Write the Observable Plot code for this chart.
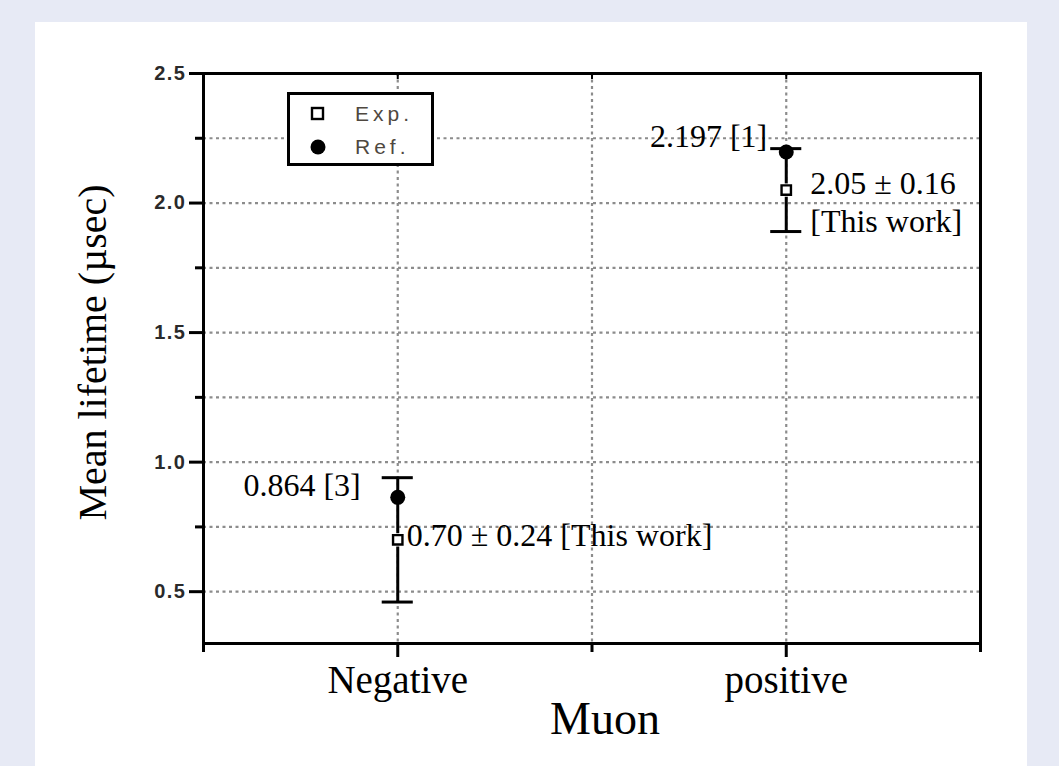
<!DOCTYPE html>
<html>
<head>
<meta charset="utf-8">
<script src="https://cdn.jsdelivr.net/npm/d3@7"></script>
<script src="https://cdn.jsdelivr.net/npm/@observablehq/plot@0.6"></script>
<style>
  html, body { margin: 0; padding: 0; }
  body { width: 1059px; height: 766px; overflow: hidden; background: #e7eaf5; position: relative; }
  #panel { position: absolute; left: 35px; top: 22px; width: 992px; height: 744px; background: #ffffff; }
  #chart { position: absolute; left: 0; top: 0; }
  #legend { position: absolute; left: 252px; top: 70px; width: 141px; height: 68px;
            border: 3px solid #000; background: #fff; font-family: "Liberation Sans", Arial, sans-serif; }
  .li { position: absolute; left: 0; height: 30px; display: flex; align-items: center; }
  .li svg { margin-left: 20px; }
  .li span { margin-left: 29px; font-size: 21px; letter-spacing: 4px; color: #4f4840; }
  .ytl text { letter-spacing: 1.5px; }
</style>
</head>
<body>
<div id="panel">
  <div id="chart"></div>
  <div id="legend"></div>
</div>
<script>
// ---- data ----
const categories = ["Negative", "positive"];
const catPos = [1, 3];
const expValues = [0.70, 2.05];
const expErrors = [0.24, 0.16];
const refValues = [0.864, 2.197];
const expLabels = ["0.70 \u00b1 0.24 [This work]", "2.05 \u00b1 0.16\n[This work]"];
const refLabels = ["0.864 [3]", "2.197 [1]"];
const seriesNames = ["Exp.", "Ref."];
const yMajorTicks = [0.5, 1.0, 1.5, 2.0, 2.5];
const yMinorTicks = [0.75, 1.25, 1.75, 2.25];
const yGridTicks = [0.5, 0.75, 1.0, 1.25, 1.5, 1.75, 2.0, 2.25];
const xMajorTicks = [1, 3];
const xMinorTicks = [0, 2, 4];
const xGridTicks = [1, 2, 3];
const xTitle = "Muon";
const yTitle = "Mean lifetime (\u00b5sec)";

const rows = categories.map((c, i) => ({
  cat: c, pos: catPos[i], exp: expValues[i],
  lo: expValues[i] - expErrors[i], hi: expValues[i] + expErrors[i],
  ref: refValues[i], expLabel: expLabels[i], refLabel: refLabels[i]
}));

const serif = '"Liberation Serif", "Times New Roman", serif';
const sans = '"Liberation Sans", Arial, sans-serif';
const capHalf = 0.08;
const grid = {stroke: "#8c8c8c", strokeOpacity: 1, strokeWidth: 2.2, strokeDasharray: "3,3.5"};
const annot = {fontSize: 32, fontFamily: serif, fill: "#000", lineAnchor: "middle"};

const chart = Plot.plot({
  width: 992,
  height: 744,
  marginLeft: 168,
  marginRight: 47,
  marginTop: 51,
  marginBottom: 123,
  style: {background: "transparent", overflow: "visible"},
  x: {domain: [0, 4]},
  y: {domain: [0.3, 2.5]},
  marks: [
    Plot.gridY(yGridTicks, grid),
    Plot.gridX(xGridTicks, grid),
    Plot.axisY(yMajorTicks, {tickSize: 14, tickPadding: 3, tickFormat: d => d.toFixed(1),
      fontSize: 20, fontWeight: "bold", fontFamily: sans, fill: "#2a2a2a", strokeWidth: 3, label: null, className: "ytl"}),
    Plot.axisY(yMinorTicks, {tickSize: 8, tickFormat: () => "", strokeWidth: 3, label: null}),
    Plot.axisX(xMajorTicks, {tickSize: 14, tickPadding: 8, tickFormat: d => categories[catPos.indexOf(d)],
      fontSize: 39, fontFamily: serif, fill: "#000", strokeWidth: 3, label: null}),
    Plot.axisX(xMinorTicks, {tickSize: 9, tickFormat: () => "", strokeWidth: 3, label: null}),
    Plot.axisX(xGridTicks, {anchor: "top", tickSize: -5, tickFormat: () => "", strokeWidth: 2, label: null}),
    Plot.frame({stroke: "#000", strokeWidth: 3}),
    Plot.ruleX(rows, {x: "pos", y1: "lo", y2: "hi", stroke: "#000", strokeWidth: 3}),
    Plot.ruleY(rows, {y: "lo", x1: d => d.pos - capHalf, x2: d => d.pos + capHalf, stroke: "#000", strokeWidth: 3}),
    Plot.ruleY(rows, {y: "hi", x1: d => d.pos - capHalf, x2: d => d.pos + capHalf, stroke: "#000", strokeWidth: 3}),
    Plot.dot(rows, {x: "pos", y: "ref", r: 7.5, fill: "#000"}),
    Plot.dot(rows, {x: "pos", y: "exp", symbol: "square", r: 7.5, fill: "#fff"}),
    Plot.dot(rows, {x: "pos", y: "exp", symbol: "square", r: 5.3, fill: "#fff", stroke: "#000", strokeWidth: 2.4}),
    Plot.text([rows[0]], {x: "pos", y: "ref", text: "refLabel", textAnchor: "end", dx: -37, dy: -12, ...annot}),
    Plot.text([rows[1]], {x: "pos", y: "ref", text: "refLabel", textAnchor: "end", dx: -19, dy: -15, ...annot}),
    Plot.text([rows[0]], {x: "pos", y: "exp", text: "expLabel", textAnchor: "start", dx: 9, dy: -4, ...annot}),
    Plot.text([rows[1]], {x: "pos", y: "exp", text: "expLabel", textAnchor: "start", dx: 24, dy: -22,
      ...annot, lineAnchor: "top", lineHeight: 1.16}),
    Plot.text([yTitle], {frameAnchor: "left", text: d => d, rotate: -90, dx: -110, dy: -6,
      fontSize: 40, fontFamily: serif, fill: "#000", textAnchor: "middle", lineAnchor: "middle"}),
    Plot.text([xTitle], {frameAnchor: "bottom", text: d => d, dx: 13, dy: 76,
      fontSize: 46, fontFamily: serif, fill: "#000", textAnchor: "middle", lineAnchor: "middle"})
  ]
});
document.getElementById("chart").appendChild(chart);

// legend (inside plot area, top-left)
const legend = d3.select("#legend");
seriesNames.forEach((name, i) => {
  const item = legend.append("div").attr("class", "li").style("top", (i === 0 ? 4 : 37) + "px");
  const s = item.append("svg").attr("width", 16).attr("height", 16);
  if (i === 0) {
    s.append("rect").attr("x", 2).attr("y", 2).attr("width", 11).attr("height", 11)
      .attr("fill", "#fff").attr("stroke", "#000").attr("stroke-width", 2.4);
  } else {
    s.append("circle").attr("cx", 8).attr("cy", 8).attr("r", 7.5).attr("fill", "#000");
  }
  item.append("span").text(name);
});
</script>
</body>
</html>
